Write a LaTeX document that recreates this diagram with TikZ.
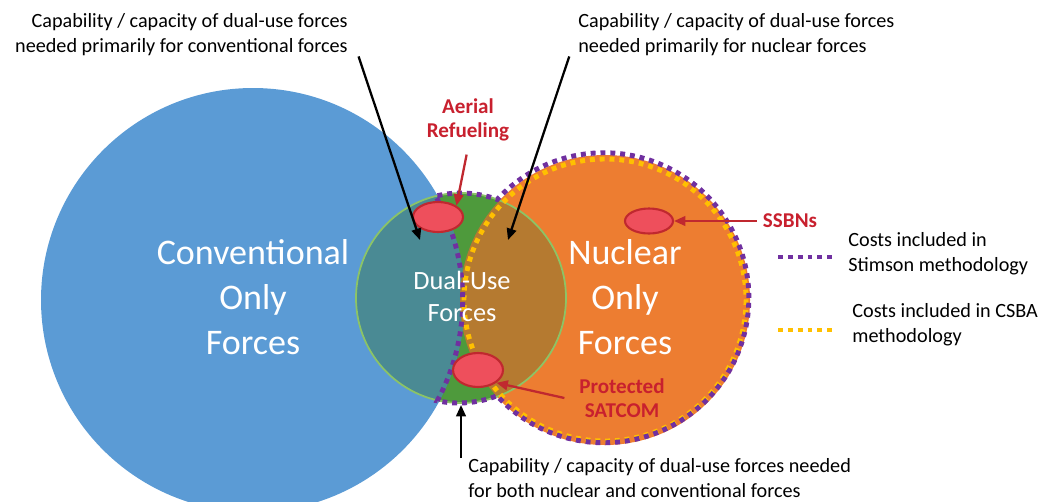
\documentclass[tikz,border=0pt]{standalone}
\usepackage{fontspec}
\setmainfont{Carlito}
\usetikzlibrary{shapes.geometric,arrows.meta}

\definecolor{convblue}{HTML}{5B9BD5}
\definecolor{nucorange}{HTML}{ED7D31}
\definecolor{dualgreen}{HTML}{4E9A3C}
\definecolor{dualteal}{HTML}{4A8A94}
\definecolor{dualbrown}{HTML}{B57A30}
\definecolor{rimgreen}{HTML}{8CC466}
\definecolor{stimsonpurple}{HTML}{7030A0}
\definecolor{csbayellow}{HTML}{FFC000}
\definecolor{spotred}{HTML}{EE4F5C}
\definecolor{spotrim}{HTML}{C0282F}
\definecolor{labelred}{HTML}{C8202E}

\tikzset{
	note/.style={font=\fontsize{11.5}{14.2}\selectfont, inner sep=0pt},
	bigname/.style={text=white, align=center, font=\fontsize{20.5}{25.5}\selectfont},
	redspot/.style={ellipse, draw=spotrim, line width=1.2pt, fill=spotred, inner sep=0pt},
	redname/.style={text=labelred, align=center, font=\fontsize{12}{14}\selectfont\bfseries},
	pointer/.style={-{Triangle[length=6.5pt,width=5.5pt]}, line width=1.3pt},
	redpointer/.style={pointer, draw=spotrim},
	stimson/.style={draw=stimsonpurple, line width=2.8pt, dash pattern=on 2.8pt off 2.8pt},
	csba/.style={draw=csbayellow, line width=2.8pt, dash pattern=on 2.8pt off 2.8pt}
}

\begin{document}
\begin{tikzpicture}[x=0.02cm, y=-0.02cm]
	\useasboundingbox (0,0) rectangle (1047,501);

	\fill[convblue] (253,300) circle[radius=212];
	\fill[nucorange] (605,300) circle[radius=145];
	\fill[dualgreen] (461,298) circle[radius=105];
	\begin{scope}
		\clip (461,298) circle[radius=105];
		\fill[dualteal] (253,300) circle[radius=212];
		\fill[dualbrown] (605,300) circle[radius=145];
	\end{scope}
	\draw[rimgreen, line width=1pt] (461,298) circle[radius=105];

	\draw[csba] (605,300) circle[radius=141];
	\draw[stimson] (437.54,195.67) arc[start angle=-102.91, end angle=-69.80, radius=105]
		arc[start angle=-137.33, end angle=137.46, radius=145]
		arc[start angle=68.61, end angle=101.81, radius=105]
		arc[start angle=28.38, end angle=-29.48, radius=212] -- cycle;

	\node[bigname] (conv) at (253,297) {Conventional\\Only\\Forces};
	\node[bigname] (nuc) at (625,297) {Nuclear\\Only\\Forces};
	\node[bigname, font=\fontsize{15}{18.2}\selectfont] (dual) at (462,296) {Dual-Use\\Forces};

	\node[redspot, minimum width=1cm, minimum height=0.6cm] (refuel) at (438,217) {};
	\node[redspot, minimum width=0.96cm, minimum height=0.5cm] (ssbn) at (649,221) {};
	\node[redspot, minimum width=1cm, minimum height=0.68cm] (satcom) at (478,370) {};

	\node[redname] (refuelname) at (468,120) {Aerial\\Refueling};
	\node[redname] (ssbnname) at (790,221) {SSBNs};
	\node[redname] (satcomname) at (622,398) {Protected\\SATCOM};

	\draw[redpointer, shorten <=4pt] (refuelname.south) -- (refuel.north east);
	\draw[redpointer] (ssbnname.west) -- (ssbn.east);
	\draw[redpointer] ([xshift=-5pt]satcomname.west) -- (satcom.south east);

	\node[note, anchor=east, align=right] (convnote) at (348,35)
		{Capability / capacity of dual-use forces\\needed primarily for conventional forces};
	\node[note, anchor=west, align=left] (nucnote) at (578,35)
		{Capability / capacity of dual-use forces\\needed primarily for nuclear forces};
	\node[note, anchor=west, align=left] (bothnote) at (468,478)
		{Capability / capacity of dual-use forces needed\\for both nuclear and conventional forces};

	\coordinate (convtip) at (420,240);
	\coordinate (nuctip) at (508,240);
	\coordinate (bothtip) at (461,405);
	\draw[pointer] ([xshift=6pt]convnote.south east) -- (convtip);
	\draw[pointer] ([xshift=-5pt]nucnote.south west) -- (nuctip);
	\draw[pointer] (bothnote.north west -| bothtip) -- (bothtip);

	\node[note, anchor=west, align=left] (stimsonkey) at (848,254)
		{Costs included in\\Stimson methodology};
	\node[note, anchor=west, align=left] (csbakey) at (852,325)
		{Costs included in CSBA\\methodology};
	\draw[stimson] (778,257) -- (835,257);
	\draw[csba] (778,330) -- (835,330);
\end{tikzpicture}
\end{document}
